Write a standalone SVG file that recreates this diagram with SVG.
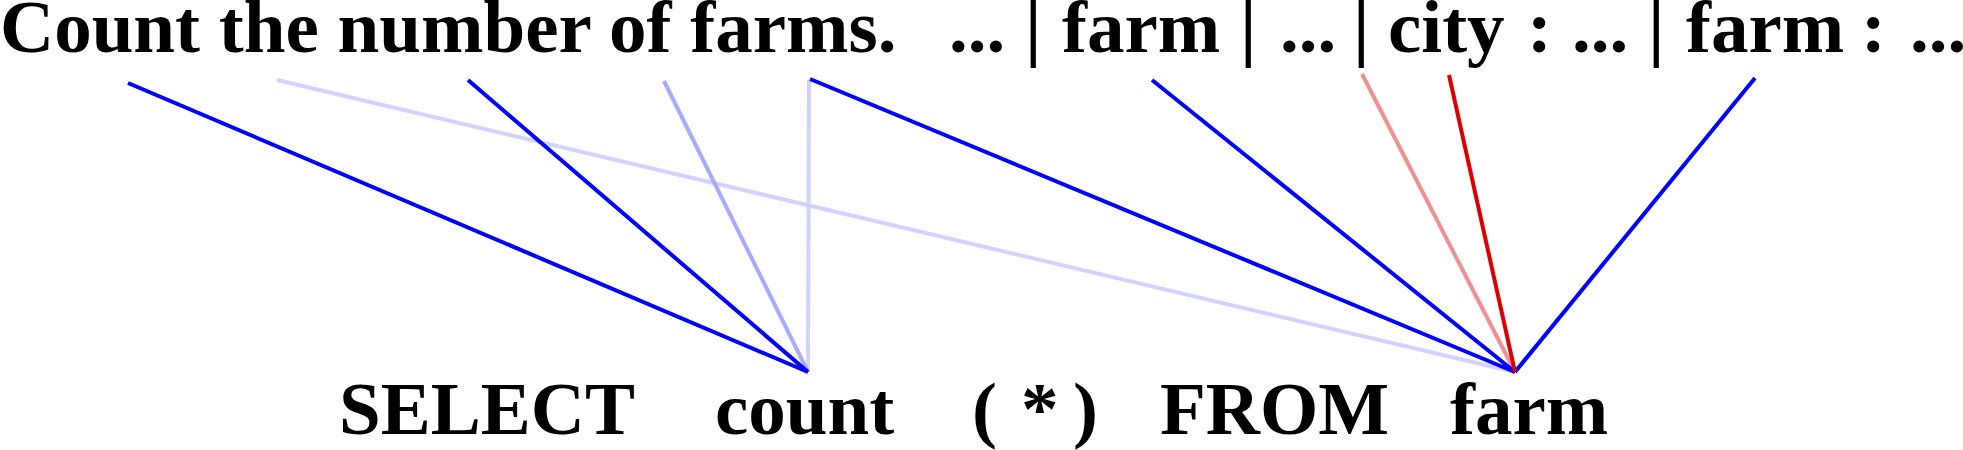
<svg xmlns="http://www.w3.org/2000/svg" width="1963" height="450" viewBox="0 0 1963 450">
<style>
text{font-family:"Liberation Serif","Times New Roman",serif;font-weight:bold;font-size:75px;fill:#000}
.e{fill:none;stroke-width:4;stroke-linecap:butt}
.b{stroke:#0000ff}
.l{stroke:#d2d2ff}
.m{stroke:#aaaaff}
.p{stroke:#f09090}
.r{stroke:#dd0000}
</style>
<rect width="1963" height="450" fill="#fff"/>
<g id="connectors">
<line class="e l" x1="277" y1="80" x2="1515" y2="372"/>
<line class="e l" x1="809" y1="80" x2="808" y2="372"/>
<line class="e m" x1="664" y1="81" x2="808" y2="372"/>
<line class="e p" x1="1362" y1="74" x2="1515" y2="372"/>
<line class="e b" x1="128" y1="83" x2="808" y2="372"/>
<line class="e b" x1="468" y1="80" x2="808" y2="372"/>
<line class="e b" x1="810" y1="79" x2="1515" y2="372"/>
<line class="e b" x1="1152" y1="80" x2="1515" y2="372"/>
<line class="e b" x1="1755" y1="78" x2="1515" y2="372"/>
<line class="e r" x1="1449" y1="75" x2="1515" y2="372"/>
</g>
<g id="source">
<text x="0" y="52">Count the number of farms.</text>
<text x="949" y="52">...</text>
<text x="1025" y="52">|</text>
<text x="1062" y="52">farm</text>
<text x="1240" y="52">|</text>
<text x="1280" y="52">...</text>
<text x="1353" y="52">|</text>
<text x="1388" y="52">city</text>
<text x="1527" y="52">:</text>
<text x="1572" y="52">...</text>
<text x="1648" y="52">|</text>
<text x="1686" y="52">farm</text>
<text x="1861" y="52">:</text>
<text x="1910" y="52">...</text>
</g>
<g id="target">
<text id="t-select" x="339" y="434">SELECT</text>
<text id="t-count" x="715" y="434">count</text>
<text id="t-lparen" x="972" y="434">(</text>
<text id="t-star" x="1021" y="434">*</text>
<text id="t-rparen" x="1073" y="434">)</text>
<text id="t-from" x="1160" y="434">FROM</text>
<text id="t-farm" x="1450" y="434">farm</text>
</g>
</svg>
